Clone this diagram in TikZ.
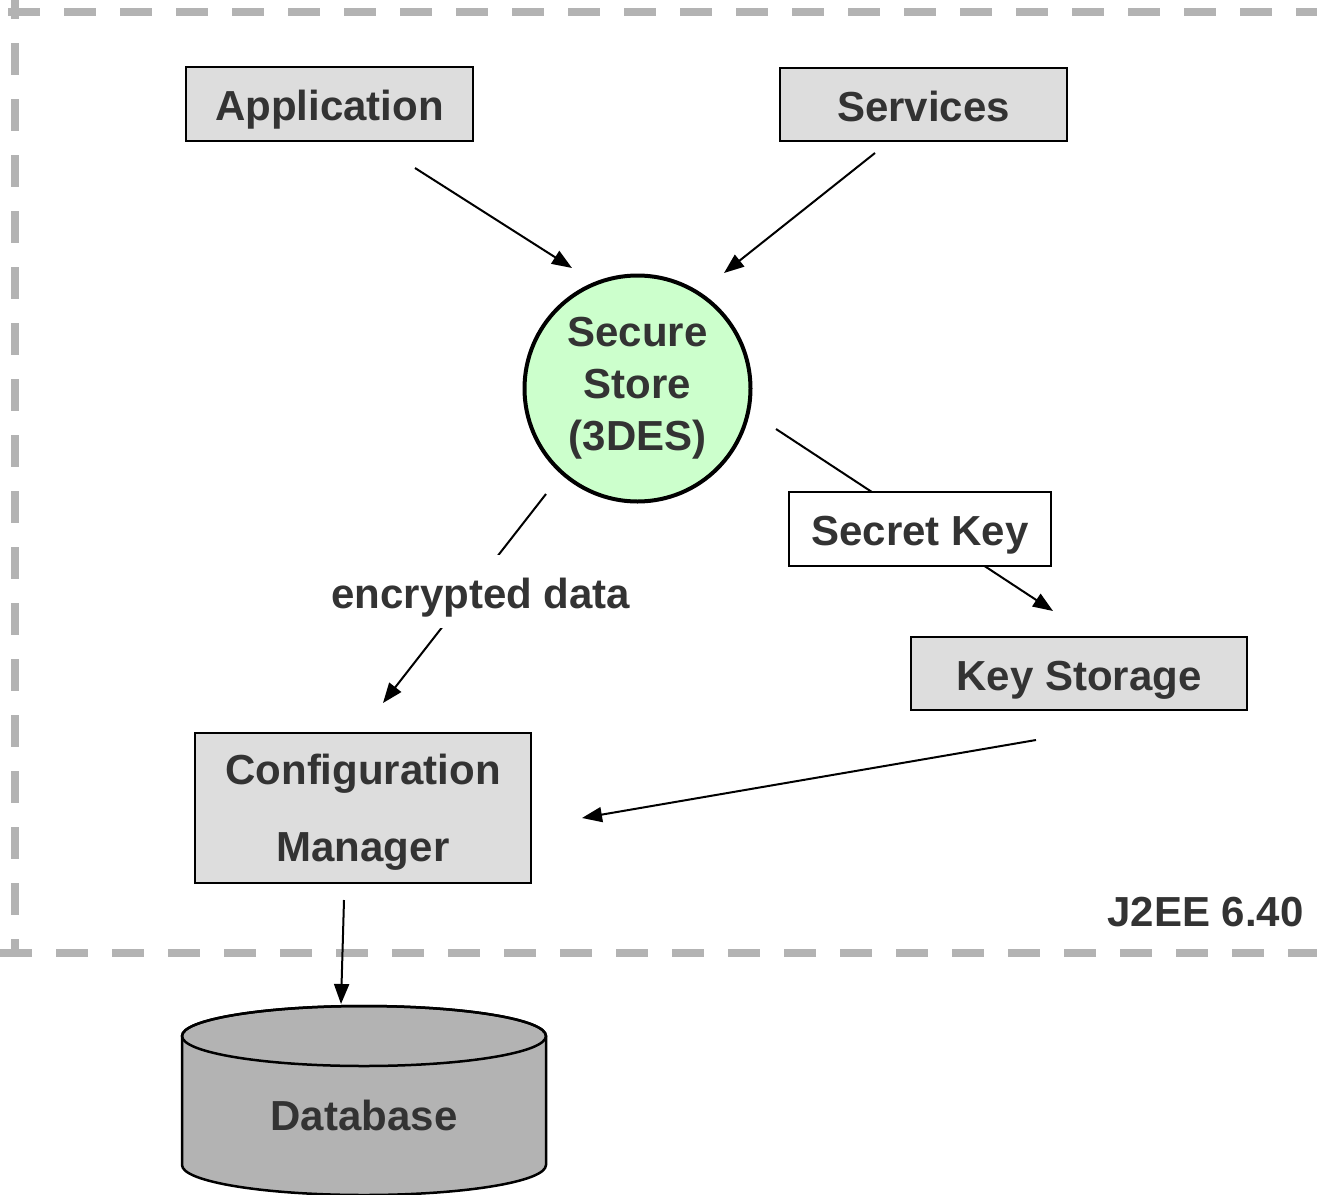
\documentclass[tikz,border=0pt]{standalone}
\usepackage{fontspec}
\setmainfont{Liberation Sans}
\usetikzlibrary{arrows.meta}
\definecolor{txt}{HTML}{333333}
\definecolor{boxgray}{HTML}{DDDDDD}
\definecolor{storegreen}{HTML}{CCFFCC}
\definecolor{dbgray}{HTML}{B3B3B3}
\definecolor{framegray}{HTML}{B3B3B3}
\tikzset{
  lbl/.style={font=\fontsize{42}{52}\selectfont\bfseries, text=txt, align=center},
  oneline/.style={lbl, text height=33pt, text depth=0pt},
  graybox/.style={oneline, draw=black, line width=2.5pt, fill=boxgray, inner sep=0pt},
  whitebox/.style={oneline, draw=black, line width=2.5pt, fill=white, inner sep=0pt},
  flow/.style={line width=2pt, -{Triangle[length=20pt,width=15pt]}},
  frame/.style={draw=framegray, line width=8pt, dash pattern=on 32pt off 24pt}
}
\begin{document}
\begin{tikzpicture}[x=1pt,y=-1pt]
  \useasboundingbox (0,0) rectangle (1317,1194);
  \clip (0,0) rectangle (1317,1194);

  % dashed system boundary
  \draw[frame] (8,12) -- (1340,12);
  \draw[frame] (15,-13) -- (15,953);
  \draw[frame] (0,953) -- (1340,953);
  \node[lbl, anchor=east] (j2ee) at (1307,912) {J2EE 6.40};

  % components
  \node[graybox, minimum width=287pt, minimum height=74pt] (app) at (329.5,104) {Application};
  \node[graybox, minimum width=287pt, minimum height=73pt] (svc) at (923.5,104.5) {Services};
  \node[lbl, circle, draw=black, line width=4pt, fill=storegreen, minimum size=226pt, inner sep=0pt] (store) at (637.5,388.5) {Secure\\Store\\(3DES)};
  \node[graybox, minimum width=336pt, minimum height=73pt] (keys) at (1079,673.5) {Key Storage};
  \node[lbl, draw=black, line width=2.5pt, fill=boxgray, inner sep=0pt, text depth=0pt,
        minimum width=336pt, minimum height=150pt, font=\fontsize{42}{77}\selectfont\bfseries] (cfg) at (363,808) {Configuration\\Manager};

  % database cylinder
  \filldraw[fill=dbgray, draw=black, line width=2.5pt]
    (182,1036) -- (182,1165) arc[start angle=180, end angle=0, x radius=182, y radius=30]
    -- (546,1036) arc[start angle=0, end angle=-180, x radius=182, y radius=30] -- cycle;
  \draw[line width=2.5pt] (364,1036) ellipse[x radius=182, y radius=30];
  \node[lbl] (db) at (364,1115) {Database};

  % connector end points
  \coordinate (appOut) at (415,168);
  \coordinate (storeInA) at (572,268);
  \coordinate (svcOut) at (875,153);
  \coordinate (storeInS) at (724,273);
  \coordinate (storeOutC) at (546,494);
  \coordinate (cfgIn) at (383,703);
  \coordinate (storeOutK) at (776,429);
  \coordinate (keysIn) at (1053,611);
  \coordinate (keysOut) at (1036,740);
  \coordinate (cfgInK) at (582,818);
  \coordinate (cfgOut) at (344,900);
  \coordinate (dbIn) at (341,1004);

  % connectors
  \draw[flow] (appOut) -- (storeInA);
  \draw[flow] (svcOut) -- (storeInS);
  \draw[flow] (storeOutC) -- (cfgIn);
  \draw[flow] (storeOutK) -- (keysIn);
  \draw[flow] (keysOut) -- (cfgInK);
  \draw[flow] (cfgOut) -- (dbIn);

  % connector labels
  \node[oneline, fill=white, minimum height=73pt, inner xsep=2pt, inner ysep=0pt] (enc) at (481,591.5) {encrypted data};
  \node[whitebox, minimum width=262pt, minimum height=74pt] (secret) at (920,529) {Secret Key};
\end{tikzpicture}
\end{document}
